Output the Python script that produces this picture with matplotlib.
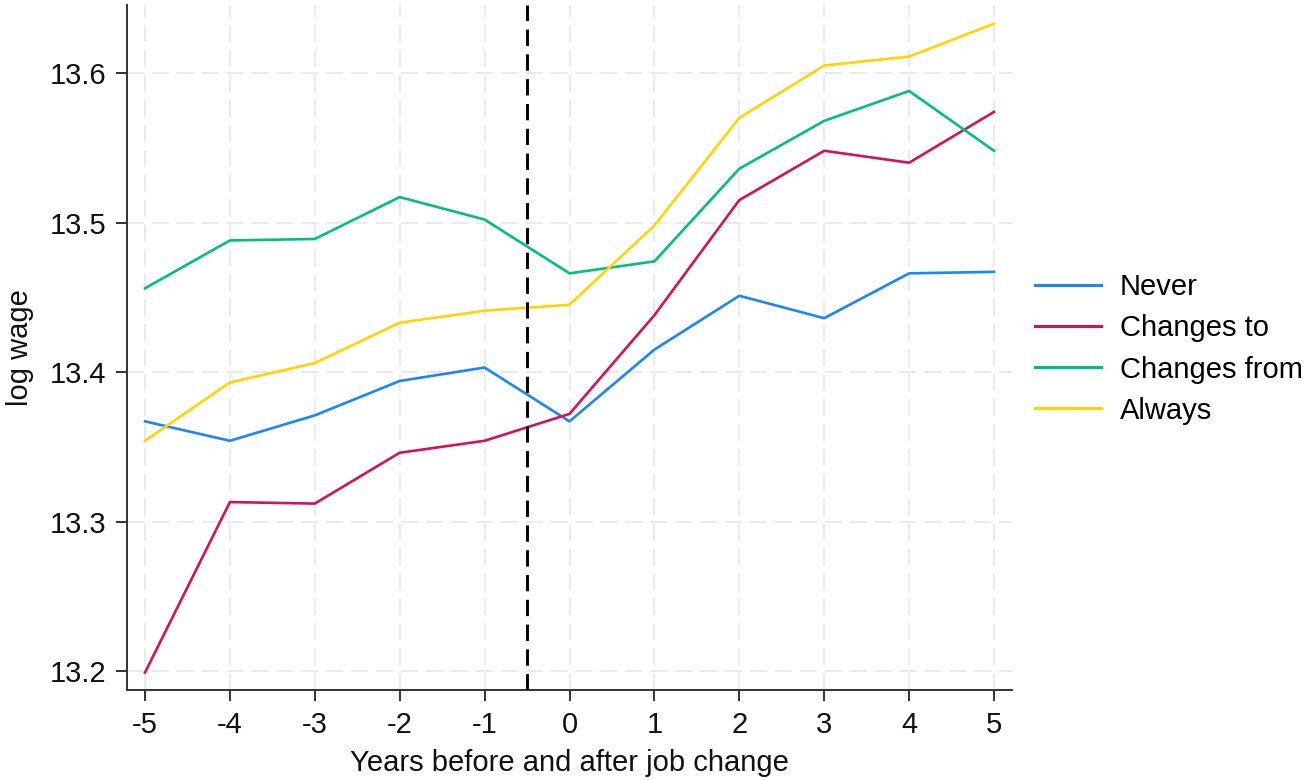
import matplotlib
matplotlib.use("Agg")
import matplotlib.pyplot as plt

years = [-5, -4, -3, -2, -1, 0, 1, 2, 3, 4, 5]
never = [13.367, 13.354, 13.371, 13.394, 13.403, 13.367, 13.415, 13.451, 13.436, 13.466, 13.467]
changes_to = [13.199, 13.313, 13.312, 13.346, 13.354, 13.372, 13.438, 13.515, 13.548, 13.540, 13.574]
changes_from = [13.456, 13.488, 13.489, 13.517, 13.502, 13.466, 13.474, 13.536, 13.568, 13.588, 13.548]
always = [13.354, 13.393, 13.406, 13.433, 13.441, 13.445, 13.498, 13.570, 13.605, 13.611, 13.633]
series_names = ["Never", "Changes to", "Changes from", "Always"]
colors = ["#1a85ff", "#d41159", "#00bf7f", "#ffd400"]
yticks = [13.2, 13.3, 13.4, 13.5, 13.6]

plt.rcParams['font.family'] = ['Liberation Sans', 'DejaVu Sans']

fig = plt.figure(figsize=(13.08, 7.8), dpi=100)
ax = fig.add_axes([127 / 1308, 1 - 690 / 780, (1012 - 127) / 1308, (690 - 5) / 780])

for vals, name, c in zip([never, changes_to, changes_from, always], series_names, colors):
    ax.plot(years, vals, color=c, lw=1.9, label=name, zorder=3)

ax.axvline(-0.5, color="black", lw=2.1, linestyle=(0, (5.6, 2.9)), zorder=4)

ax.set_xlim(-5.212, 5.212)
ax.set_ylim(13.1873, 13.6455)
ax.set_xticks(years)
ax.set_xticklabels([str(y) for y in years])
ax.set_yticks(yticks)
ax.set_yticklabels([f"{v:.1f}" for v in yticks])

ax.grid(True, color="#e8e8e8", linestyle=(0, (9.4, 4.4)), lw=1.3, zorder=0)
for s in ["top", "right"]:
    ax.spines[s].set_visible(False)
for s in ["left", "bottom"]:
    ax.spines[s].set_color("#333333")
    ax.spines[s].set_linewidth(1.4)
ax.tick_params(axis="both", direction="out", length=8, width=1.4, color="#333333",
               labelsize=21, labelcolor="#111111", pad=7)

ax.set_xlabel("Years before and after job change", fontsize=21, color="#111111", labelpad=7)
ax.set_ylabel("log wage", fontsize=21, color="#111111", labelpad=11)

leg = fig.legend(loc="center left", bbox_to_anchor=(1035 / 1308, 1 - 349 / 780),
                 frameon=False, fontsize=21, handlelength=2.25, handletextpad=0.65,
                 labelspacing=0.45, borderpad=0, borderaxespad=0)
for line in leg.get_lines():
    line.set_linewidth(2.2)

fig.savefig("out.png", dpi=100)
